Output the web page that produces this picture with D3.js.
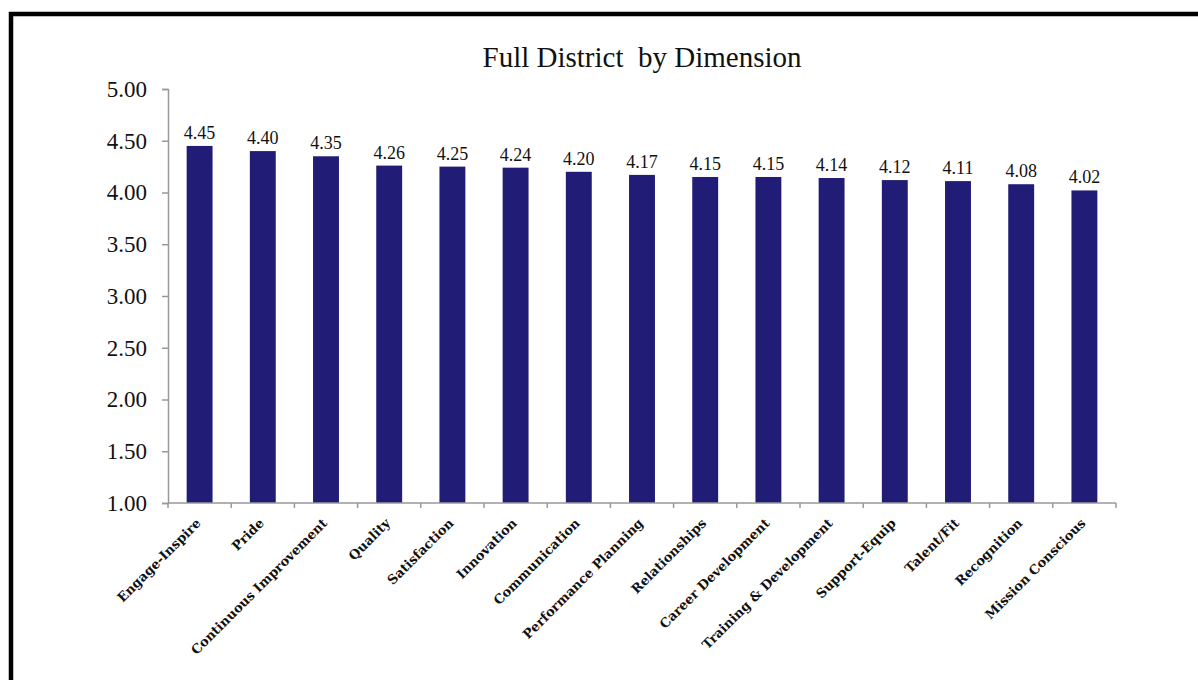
<!DOCTYPE html>
<html>
<head>
<meta charset="utf-8">
<script src="https://cdn.jsdelivr.net/npm/d3@7"></script>
<style>
  html, body { margin: 0; padding: 0; background: #fff; }
  svg { display: block; }
  text { font-family: "Liberation Serif", "DejaVu Serif", serif; fill: #111; }
</style>
</head>
<body>
<svg id="chart" width="1198" height="680"></svg>
<script>
// Dimension scores for the whole district
const dimensions = [
  "Engage-Inspire", "Pride", "Continuous Improvement", "Quality", "Satisfaction",
  "Innovation", "Communication", "Performance Planning", "Relationships",
  "Career Development", "Training & Development", "Support-Equip", "Talent/Fit",
  "Recognition", "Mission Conscious"
];
const scores = [4.45, 4.40, 4.35, 4.26, 4.25, 4.24, 4.20, 4.17, 4.15, 4.15, 4.14, 4.12, 4.11, 4.08, 4.02];
const yTicks = [1.00, 1.50, 2.00, 2.50, 3.00, 3.50, 4.00, 4.50, 5.00];
const chartTitle = "Full District  by Dimension";

const svg = d3.select("#chart");

// outer frame
svg.append("rect")
  .attr("x", 11).attr("y", 14)
  .attr("width", 1400).attr("height", 1000)
  .attr("fill", "none").attr("stroke", "#000").attr("stroke-width", 4.5);

const plotL = 168, plotR = 1116, plotT = 89, plotB = 503;

const x = d3.scaleBand().domain(dimensions).range([plotL, plotR]).paddingInner(0.59).paddingOuter(0.295);
const y = d3.scaleLinear().domain([1, 5]).range([plotB, plotT]);

// title
svg.append("text")
  .attr("x", 642).attr("y", 67)
  .attr("text-anchor", "middle")
  .style("font-size", "29px")
  .style("white-space", "pre")
  .text(chartTitle);

// y axis
const yAxis = svg.append("g")
  .attr("transform", `translate(${plotL},0)`)
  .call(d3.axisLeft(y).tickValues(yTicks).tickFormat(d3.format(".2f")).tickSize(6).tickPadding(15));
yAxis.select(".domain").attr("stroke", "#999").attr("stroke-width", 1.5);
yAxis.selectAll(".tick line").attr("stroke", "#999").attr("stroke-width", 1.5);
yAxis.selectAll(".tick text")
  .style("font-size", "23px")
  .style("font-family", "'Liberation Serif', serif")
  .attr("fill", "#111");

// bars
svg.append("g").selectAll("rect")
  .data(scores)
  .join("rect")
  .attr("x", (d, i) => x(dimensions[i]))
  .attr("y", d => y(d))
  .attr("width", x.bandwidth())
  .attr("height", d => y(1) - y(d))
  .attr("fill", "#211d77");

// value labels
svg.append("g").selectAll("text")
  .data(scores)
  .join("text")
  .attr("x", (d, i) => x(dimensions[i]) + x.bandwidth() / 2)
  .attr("y", d => y(d) - 7)
  .attr("text-anchor", "middle")
  .style("font-size", "18px")
  .text(d => d.toFixed(2));

// x axis with ticks at category boundaries
const bounds = d3.range(dimensions.length + 1).map(i => plotL + i * (plotR - plotL) / dimensions.length);
const xAxisG = svg.append("g");
xAxisG.append("line")
  .attr("x1", plotL).attr("x2", plotR)
  .attr("y1", plotB).attr("y2", plotB)
  .attr("stroke", "#999").attr("stroke-width", 1.5);
xAxisG.selectAll("line.tk")
  .data(bounds)
  .join("line")
  .attr("class", "tk")
  .attr("x1", d => d).attr("x2", d => d)
  .attr("y1", plotB).attr("y2", plotB + 5)
  .attr("stroke", "#999").attr("stroke-width", 1.5);

// rotated category labels
svg.append("g").selectAll("text")
  .data(dimensions)
  .join("text")
  .attr("transform", d => `translate(${x(d) + x.bandwidth() / 2 + 2},${plotB + 21}) rotate(-45)`)
  .attr("text-anchor", "end")
  .style("font-family", "'DejaVu Serif', serif")
  .style("font-size", "13px")
  .style("font-weight", "bold")
  .text(d => d);
</script>
</body>
</html>
